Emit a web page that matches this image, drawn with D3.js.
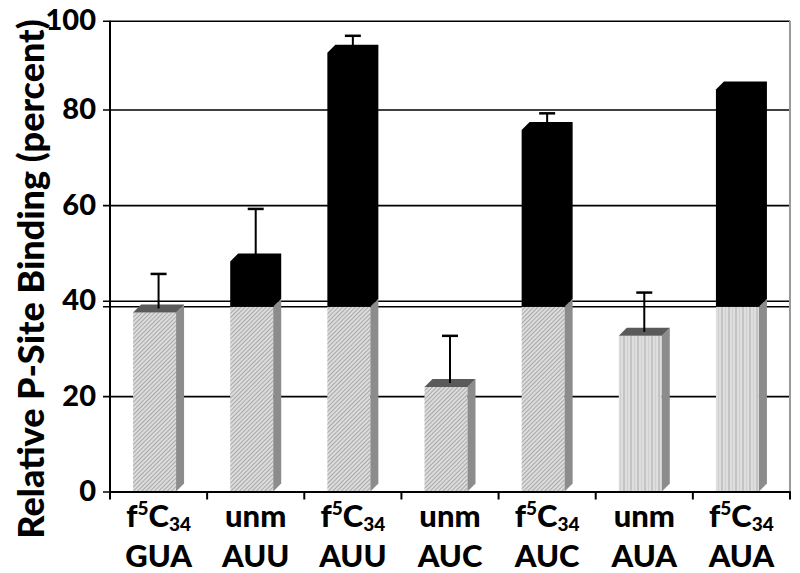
<!DOCTYPE html>
<html>
<head>
<meta charset="utf-8">
<script src="https://cdn.jsdelivr.net/npm/d3@7"></script>
<style>
  body { margin: 0; background: #fff; }
  text { font-family: Lato, "Open Sans", sans-serif; font-weight: 900; fill: #000; }
</style>
</head>
<body>
<div id="chart"></div>
<script>
// ----------------------------------------------- //
// Data
var mods = ["f5C34", "unm", "f5C34", "unm", "f5C34", "unm", "f5C34"];
var codons = ["GUA", "AUU", "AUU", "AUC", "AUC", "AUA", "AUA"];
var binding = [37.5, 48.2, 92.8, 21.9, 75.7, 32.6, 84.5];
var errors = [8.1, 11.0, 3.8, 10.7, 3.5, 9.1, 0];
var fills = ["diag", "diag", "diag", "diag", "diag", "vert", "vert"];
var yTicks = [0, 20, 40, 60, 80, 100];
var breakValue = 38.7;   // top of the lower (gray) panel

// ----------------------------------------------- //
var svgWidth = 800;
var svgHeight = 573;
var depth = 8;

var svg = d3.select("#chart")
    .append("svg")
    .attr("width", svgWidth)
    .attr("height", svgHeight);

// patterns for the gray bars
var defs = svg.append("defs");
var diag = defs.append("pattern")
    .attr("id", "diag")
    .attr("patternUnits", "userSpaceOnUse")
    .attr("width", 3).attr("height", 3)
    .attr("patternTransform", "rotate(45)");
diag.append("rect").attr("width", 3).attr("height", 3).attr("fill", "#dcdcdc");
diag.append("rect").attr("width", 1).attr("height", 3).attr("fill", "#a9a9a9");

var vert = defs.append("pattern")
    .attr("id", "vert")
    .attr("patternUnits", "userSpaceOnUse")
    .attr("width", 7).attr("height", 7);
vert.append("rect").attr("width", 7).attr("height", 7).attr("fill", "#dedede");
vert.append("rect").attr("x", 0).attr("width", 2).attr("height", 7).attr("fill", "#c4c4c4");
vert.append("rect").attr("x", 4).attr("width", 1).attr("height", 7).attr("fill", "#cfcfcf");

// ----------------------------------------------- //
// Scales (two stacked panels in the original, so piecewise)
var x = d3.scaleBand()
    .domain(d3.range(codons.length))
    .range([110, 790])
    .paddingInner(0.475)
    .paddingOuter(0.2375);

var xTick = d3.scaleBand()
    .domain(d3.range(codons.length))
    .range([110, 790]);

var y = d3.scaleLinear()
    .domain([0, 40, 80, 100])
    .range([491.5, 300.7, 109.5, 20.7]);

// lower panel keeps its own linear scale up to the break
var yLow = d3.scaleLinear()
    .domain([0, 20])
    .range([491.5, 396]);

function yv(v) {
    return v <= breakValue ? yLow(v) : y(Math.max(v, 40));
}

// ----------------------------------------------- //
// Gridlines + y axis
var leftAxis = d3.axisLeft(y)
    .tickValues(yTicks)
    .tickSize(-(790 - 103))
    .tickPadding(7)
    .tickFormat(d3.format("d"));

var yAxis = svg.append("g")
    .attr("transform", "translate(103,0)")
    .call(leftAxis);
yAxis.select(".domain").remove();
yAxis.selectAll("line").attr("stroke", "#000").attr("stroke-width", 1.6);
yAxis.selectAll("text")
    .style("font-size", "29px")
    .style("font-family", "Lato, sans-serif")
    .style("font-weight", "900")
    .attr("fill", "#000");

// break line
svg.append("line")
    .attr("x1", 103).attr("x2", 790)
    .attr("y1", yLow(breakValue)).attr("y2", yLow(breakValue))
    .attr("stroke", "#000").attr("stroke-width", 1.6);

// left axis line
svg.append("line")
    .attr("x1", 110).attr("x2", 110)
    .attr("y1", y(100)).attr("y2", y(0))
    .attr("stroke", "#000").attr("stroke-width", 2);

// right frame
svg.append("line")
    .attr("x1", 790).attr("x2", 790)
    .attr("y1", y(100)).attr("y2", y(0))
    .attr("stroke", "#9a9a9a").attr("stroke-width", 2);

// ----------------------------------------------- //
// Bars
var bars = svg.append("g");
binding.forEach(function(v, i) {
    var x0 = x(i);
    var x1 = x(i) + x.bandwidth() - depth;
    var yb = yLow(0);
    var grayTop = v <= breakValue ? yLow(v) : yLow(breakValue);

    // gray front
    bars.append("rect")
        .attr("x", x0).attr("y", grayTop)
        .attr("width", x1 - x0).attr("height", yb - grayTop)
        .attr("fill", "url(#" + fills[i] + ")");
    // gray side
    bars.append("polygon")
        .attr("points", [[x1, grayTop], [x1 + depth, grayTop - depth], [x1 + depth, yb - depth], [x1, yb]].join(" "))
        .attr("fill", "#8c8c8c");

    if (v <= breakValue) {
        // dark top face
        bars.append("polygon")
            .attr("points", [[x0, grayTop], [x0 + depth, grayTop - depth], [x1 + depth, grayTop - depth], [x1, grayTop]].join(" "))
            .attr("fill", "#5a5a5a");
    } else {
        // black upper part (front, side and top in one)
        var yt = y(v);
        bars.append("polygon")
            .attr("points", [[x0, grayTop], [x0, yt], [x0 + depth, yt - depth], [x1 + depth, yt - depth],
                [x1 + depth, grayTop - depth], [x1, grayTop]].join(" "))
            .attr("fill", "#000");
    }
});

// ----------------------------------------------- //
// Error bars (upper only)
var errG = svg.append("g");
binding.forEach(function(v, i) {
    if (!errors[i]) return;
    var cx = x(i) + (x.bandwidth() - depth) / 2 + depth / 2;
    var yTop = yv(v + errors[i]);
    var yBase = yv(v) - depth / 2;
    errG.append("line")
        .attr("x1", cx).attr("x2", cx)
        .attr("y1", yTop).attr("y2", yBase)
        .attr("stroke", "#000").attr("stroke-width", 2);
    errG.append("line")
        .attr("x1", cx - 8).attr("x2", cx + 8)
        .attr("y1", yTop).attr("y2", yTop)
        .attr("stroke", "#000").attr("stroke-width", 2.5);
});

// ----------------------------------------------- //
// Bottom axis
var bottomAxis = d3.axisBottom(xTick).tickSize(0).tickFormat("");
var xAxis = svg.append("g")
    .attr("transform", "translate(0," + y(0) + ")")
    .call(bottomAxis);
xAxis.select(".domain").attr("stroke", "#000").attr("stroke-width", 2);
xAxis.selectAll(".tick").remove();

// category boundary ticks
d3.range(codons.length + 1).forEach(function(k) {
    var tx = k < codons.length ? xTick(k) : xTick.range()[1];
    svg.append("line")
        .attr("x1", tx).attr("x2", tx)
        .attr("y1", y(0)).attr("y2", y(0) + 8)
        .attr("stroke", "#000").attr("stroke-width", 2);
});

// category labels
codons.forEach(function(c, i) {
    var cx = xTick(i) + xTick.bandwidth() / 2;
    var t = svg.append("text")
        .attr("x", cx).attr("y", 527)
        .attr("text-anchor", "middle")
        .style("font-size", "31px");
    if (mods[i] === "f5C34") {
        t.append("tspan").text("f");
        t.append("tspan").attr("dy", -12).style("font-size", "19px").text("5");
        t.append("tspan").attr("dy", 12).text("C");
        t.append("tspan").attr("dy", 4).style("font-size", "19px").text("34");
    } else {
        t.text(mods[i]);
    }
    svg.append("text")
        .attr("x", cx).attr("y", 567)
        .attr("text-anchor", "middle")
        .style("font-size", "31px")
        .text(c);
});

// y title
svg.append("text")
    .attr("transform", "translate(44,279) rotate(-90)")
    .attr("text-anchor", "middle")
    .style("font-size", "36px")
    .text("Relative P-Site Binding (percent)");
</script>
</body>
</html>
